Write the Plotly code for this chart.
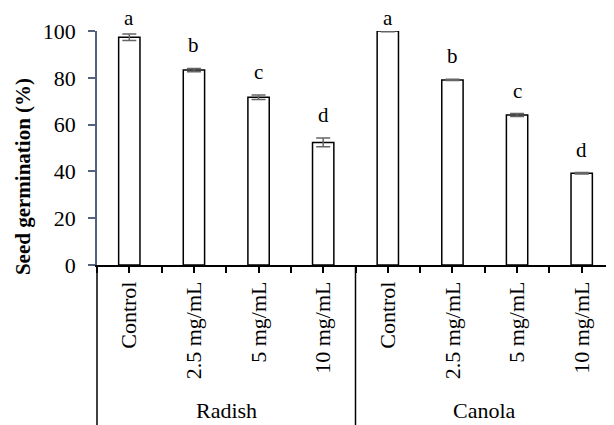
import plotly.graph_objects as go

categories = ["Control", "2.5 mg/mL", "5 mg/mL", "10 mg/mL",
              "Control", "2.5 mg/mL", "5 mg/mL", "10 mg/mL"]
groups = ["Radish", "Canola"]
germination = [97.3, 83.3, 71.7, 52.4, 100.0, 79.1, 64.1, 39.2]
errors = [1.4, 0.7, 1.0, 1.9, 0.3, 0.3, 0.6, 0.3]
letters = ["a", "b", "c", "d", "a", "b", "c", "d"]
y_ticks = [0, 20, 40, 60, 80, 100]

FONT = "Liberation Serif"
n = len(categories)
xs = list(range(n))
ymax = y_ticks[-1]

fig = go.Figure()
fig.add_trace(go.Bar(
    x=xs, y=germination, width=0.33,
    marker=dict(color="white", line=dict(color="black", width=1.5)),
    error_y=dict(type="data", array=errors, visible=True,
                 color="#666666", thickness=1.5, width=7),
    showlegend=False,
))

for i, (v, e, l) in enumerate(zip(germination, errors, letters)):
    fig.add_annotation(x=i, y=min(v + e + 4.3, 99.8) / ymax, xref="x", yref="paper",
                       text=l, showarrow=False, yanchor="bottom", borderpad=0,
                       font=dict(family=FONT, size=21, color="black"))

# group labels
per_group = n // len(groups)
for g, name in enumerate(groups):
    center = g * per_group + (per_group - 1) / 2
    fig.add_annotation(x=center, y=-0.622, xref="x", yref="paper",
                       text=name, showarrow=False, yanchor="middle",
                       font=dict(family=FONT, size=22, color="black"))

# group separator lines
for g in range(len(groups)):
    xp = (g * per_group) / n
    fig.add_shape(type="line", xref="paper", yref="paper",
                  x0=xp, x1=xp, y0=0, y1=-0.69,
                  line=dict(color="black", width=1.5))

fig.add_annotation(x=-0.143, y=0.376, xref="paper", yref="paper",
                   text="<b>Seed germination (%)</b>", textangle=-90,
                   showarrow=False, xanchor="center", yanchor="middle",
                   font=dict(family=FONT, size=21, color="black"))

fig.update_xaxes(
    range=[-0.5, n - 0.5], tickmode="array", tickvals=xs, ticktext=categories,
    tickangle=-90, ticks="outside", ticklen=6, tickwidth=1.5, tickcolor="black",
    showline=True, linecolor="black", linewidth=1.5, showgrid=False,
    zeroline=False, ticklabelstandoff=0, automargin=False,
    tickfont=dict(family=FONT, size=22, color="black"),
    minor=dict(tickmode="array", tickvals=[i - 0.5 for i in range(n + 1)],
               ticks="outside", ticklen=6, tickwidth=1.5, tickcolor="black",
               showgrid=False),
)
fig.update_yaxes(
    range=[0, ymax], tickmode="array", tickvals=y_ticks,
    ticks="outside", ticklen=7, tickwidth=1.5, tickcolor="#52627f",
    showline=True, linecolor="#52627f", linewidth=1.5, showgrid=False,
    zeroline=False, ticklabelstandoff=8, automargin=False,
    tickfont=dict(family=FONT, size=22, color="black"),
)
# page body has an 8px margin; size the figure so the plot lands where the reference has it
fig.update_layout(
    width=606, height=417,
    margin=dict(l=89, r=0, t=23, b=160, autoexpand=False),
    plot_bgcolor="white", paper_bgcolor="white",
    font=dict(family=FONT, color="black"),
    bargap=0.67,
)
fig.write_html("out.html")
